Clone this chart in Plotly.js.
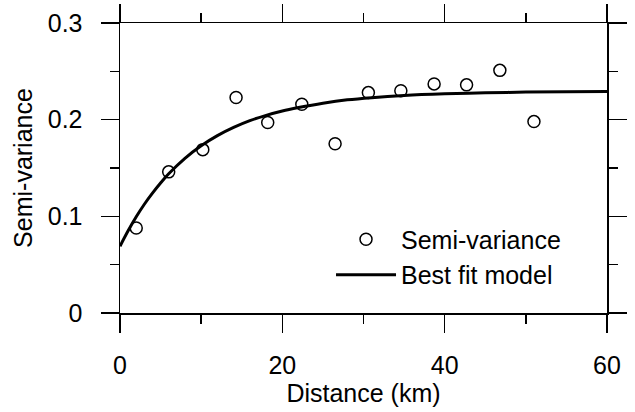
<!DOCTYPE html>
<html>
<head>
<meta charset="utf-8">
<script src="https://cdn.plot.ly/plotly-3.0.1.min.js"></script>
<style>html,body{margin:0;padding:0;background:#fff;}#chart{width:635px;height:412px;}</style>
</head>
<body>
<div id="chart"></div>
<script>
// Observed semi-variance (distance in km)
const distance = [2.0, 6.0, 10.2, 14.3, 18.2, 22.4, 26.5, 30.6, 34.6, 38.7, 42.7, 46.8, 51.0];
const semiVariance = [0.088, 0.146, 0.169, 0.223, 0.197, 0.216, 0.175, 0.228, 0.230, 0.237, 0.236, 0.251, 0.198];

// Best fit model curve
const modelDistance = [0, 1, 2, 3, 4, 5, 6, 8, 10, 12, 14, 16, 18, 20, 22, 25, 28, 31, 35, 40, 45, 50, 55, 60];
const modelValue = [0.069, 0.085, 0.0995, 0.1125, 0.124, 0.1345, 0.144, 0.160, 0.173, 0.1835, 0.192, 0.199, 0.2045, 0.209, 0.2125, 0.217, 0.2205, 0.2228, 0.2250, 0.2267, 0.2278, 0.2285, 0.2289, 0.2291];

const xTicks = [0, 20, 40, 60];
const yTicks = [0, 0.1, 0.2, 0.3];
const yTickText = ['0', '0.1', '0.2', '0.3'];

const FONT = 'Liberation Sans, Arial, sans-serif';
const FS = 25;

const traces = [
  {
    x: distance, y: semiVariance, type: 'scatter', mode: 'markers',
    name: 'Semi-variance', legendgroup: 'a',
    marker: {symbol: 'circle-open', size: 12, color: '#000', line: {width: 1.5, color: '#000'}},
    cliponaxis: false
  },
  {
    x: modelDistance, y: modelValue, type: 'scatter', mode: 'lines',
    name: 'Best fit model', legendgroup: 'b',
    line: {color: '#000', width: 3, shape: 'spline'}
  }
];

const axisCommon = {
  showline: true, linecolor: '#000', linewidth: 1.5,
  ticks: 'outside', ticklen: 18, tickwidth: 1.5, tickcolor: '#000',
  mirror: 'ticks', showgrid: false, zeroline: false,
  tickfont: {family: FONT, size: FS, color: '#000'},
  fixedrange: true
};

const layout = {
  width: 635, height: 412,
  margin: {l: 120, r: 28, t: 23, b: 99},
  paper_bgcolor: '#fff', plot_bgcolor: '#fff',
  font: {family: FONT, size: FS, color: '#000'},
  showlegend: true,
  legend: {
    x: 0.4333, xanchor: 'left', y: 0.333, yanchor: 'top',
    bgcolor: 'rgba(0,0,0,0)', borderwidth: 0,
    font: {family: FONT, size: FS, color: '#000'},
    traceorder: 'grouped', tracegroupgap: 0, itemwidth: 60
  },
  xaxis: Object.assign({}, axisCommon, {
    range: [0, 60], tickvals: xTicks, ticktext: xTicks.map(String),
    minor: {tickvals: [10, 30, 50], ticklen: 9, tickwidth: 1.5, tickcolor: '#000', ticks: 'outside'},
    ticklabelstandoff: 11,
    title: {text: 'Distance (km)', font: {family: FONT, size: FS, color: '#000'}, standoff: 2}
  }),
  yaxis: Object.assign({}, axisCommon, {
    range: [0, 0.3], tickvals: yTicks, ticktext: yTickText,
    minor: {tickvals: [0.05, 0.15, 0.25], ticklen: 9, tickwidth: 1.5, tickcolor: '#000', ticks: 'outside'},
    ticklabelstandoff: 13,
    title: {text: 'Semi-variance', font: {family: FONT, size: FS, color: '#000'}, standoff: 8}
  })
};

Plotly.newPlot('chart', traces, layout, {displayModeBar: false, staticPlot: true});
</script>
</body>
</html>
